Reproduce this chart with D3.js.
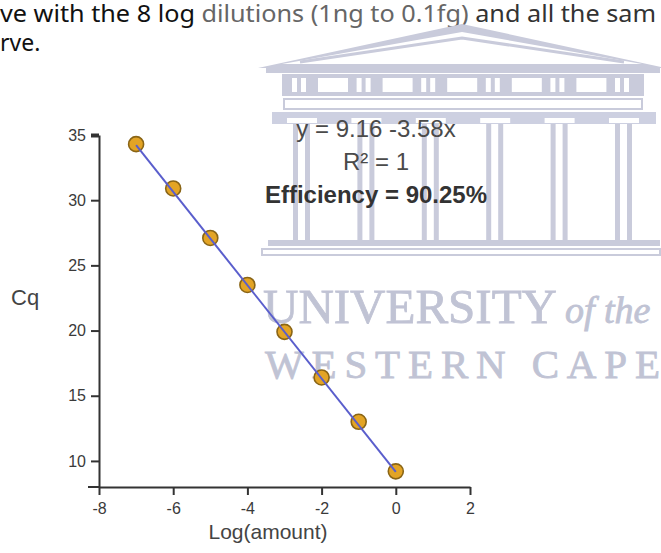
<!DOCTYPE html>
<html lang="en">
<head>
  <meta charset="UTF-8">
  <title>Standard curve</title>
  <style>
    body { margin: 0; background: #fff; }
    svg { display: block; }
  </style>
</head>
<body>
<svg width="661" height="553"></svg>

<script src="https://cdn.jsdelivr.net/npm/d3@7/dist/d3.min.js"></script>
<script>
// data
var logAmount = [-7, -6, -5, -4, -3, -2, -1, 0];
var cq = [34.3, 30.9, 27.1, 23.5, 19.9, 16.4, 13.0, 9.2];
var fitCoef = [9.16, -3.58];               // intercept, slope
var xTicks = [-8, -6, -4, -2, 0, 2];
var yTicks = [10, 15, 20, 25, 30, 35];
var fitLabels = ["y = 9.16 -3.58x", "R\u00b2 = 1", "Efficiency = 90.25%"];
var pageLines = ["ve with the 8 log", " dilutions (1ng to 0.1fg)", " and all the sam"];

var svg = d3.select("svg");
var wm = "#c9cbdb";

// page text above the figure (cut off in the scan)
var t1 = svg.append("text")
  .attr("x", 0).attr("y", 22)
  .attr("font-family", "'Noto Sans', 'Open Sans', sans-serif")
  .attr("font-size", 23)
  .attr("textLength", 656).attr("lengthAdjust", "spacingAndGlyphs");
t1.selectAll("tspan").data(pageLines).enter().append("tspan")
  .attr("fill", function(d, i) { return ["#111", "#666", "#333"][i]; })
  .text(function(d) { return d; });
svg.append("text")
  .attr("x", 0).attr("y", 51)
  .attr("font-family", "'Noto Sans', 'Open Sans', sans-serif")
  .attr("font-size", 23).attr("fill", "#111")
  .text("rve.");

// watermark (university crest) behind the chart
var w = svg.append("g").attr("class", "watermark");
w.append("path").attr("d", "M258,68 L462,24 L666,68 Z").attr("fill", wm);
w.append("path").attr("d", "M282,64 L462,32 L642,64 Z").attr("fill", "#fff");
w.append("path").attr("d", "M300,62 L462,38 L624,62").attr("fill", "none").attr("stroke", wm).attr("stroke-width", 3);
w.append("rect").attr("x", 266).attr("y", 68).attr("width", 394).attr("height", 5).attr("fill", wm);
w.append("rect").attr("x", 282).attr("y", 74).attr("width", 362).attr("height", 22).attr("fill", wm);
var bays = d3.range(6);
w.selectAll(".pair").data(bays).enter().append("g").each(function(d) {
  var x0 = 292 + d * 64.6;
  d3.select(this).append("rect").attr("x", x0).attr("y", 78).attr("width", 5).attr("height", 14).attr("fill", "#fff");
  d3.select(this).append("rect").attr("x", x0 + 9).attr("y", 78).attr("width", 5).attr("height", 14).attr("fill", "#fff");
  if (d < 5) {
    d3.select(this).append("rect").attr("x", x0 + 26).attr("y", 78).attr("width", 30).attr("height", 14).attr("fill", "#fff");
  }
});
w.append("rect").attr("x", 284).attr("y", 99).attr("width", 358).attr("height", 10)
  .attr("fill", "#fff").attr("stroke", wm).attr("stroke-width", 2);
w.append("rect").attr("x", 272).attr("y", 112).attr("width", 384).attr("height", 12).attr("fill", "#cdd0e1");
w.selectAll(".col").data(bays).enter().append("g").each(function(d) {
  var x0 = 293 + d * 64.4;
  var g = d3.select(this);
  g.append("rect").attr("x", x0 - 6).attr("y", 118).attr("width", 30).attr("height", 5).attr("fill", "#fff");
  g.append("rect").attr("x", x0).attr("y", 124).attr("width", 5).attr("height", 116).attr("fill", wm);
  g.append("rect").attr("x", x0 + 12).attr("y", 124).attr("width", 5).attr("height", 116).attr("fill", wm);
});
w.append("rect").attr("x", 268).attr("y", 240).attr("width", 392).attr("height", 6).attr("fill", wm);
w.append("rect").attr("x", 262).attr("y", 249).attr("width", 398).attr("height", 6)
  .attr("fill", "#fff").attr("stroke", wm).attr("stroke-width", 2);

var uni = w.append("text")
  .attr("x", 263).attr("y", 323)
  .attr("font-family", "'Liberation Serif', 'DejaVu Serif', serif")
  .attr("fill", "#c0c3d4").attr("stroke", "#c0c3d4").attr("stroke-width", 0.8);
uni.append("tspan").attr("font-size", 49).text("UNIVERSITY");
uni.append("tspan").attr("font-size", 38).attr("font-style", "italic").attr("dx", 8).text("of the");
w.append("text")
  .attr("x", 265).attr("y", 378)
  .attr("font-family", "'Liberation Serif', 'DejaVu Serif', serif")
  .attr("font-size", 41).attr("fill", "#c0c3d4").attr("stroke", "#c0c3d4").attr("stroke-width", 0.8)
  .attr("textLength", 395).attr("lengthAdjust", "spacing")
  .text("WESTERN CAPE");

// scales
var x = d3.scaleLinear().domain([-8, 2]).range([99, 470]);
var y = d3.scaleLinear().domain([8, 35]).range([487, 135]);

var font = "Arial, 'Liberation Sans', sans-serif";

// axes
var yAxis = d3.axisLeft(y).tickValues(yTicks).tickSize(8).tickSizeOuter(0).tickPadding(5);
var gy = svg.append("g").attr("transform", "translate(99,0)").call(yAxis);
var xAxis = d3.axisBottom(x).tickValues(xTicks).tickSize(8).tickSizeOuter(0).tickPadding(8)
  .tickFormat(function(d) { return String(d); });
var gx = svg.append("g").attr("transform", "translate(0,487)").call(xAxis);
gx.append("line").attr("x1", 88).attr("x2", x(-8)).attr("y1", 0).attr("y2", 0);

[gx, gy].forEach(function(g) {
  g.attr("font-size", 16);
  g.selectAll(".domain").attr("stroke", "#333").attr("stroke-width", 2);
  g.selectAll("line").attr("stroke", "#333").attr("stroke-width", 2);
  g.selectAll("text").attr("font-family", font).attr("font-size", 16).attr("fill", "#3a3a3a");
});
gy.select(".tick:last-of-type line").attr("stroke-width", 4);

// axis titles
svg.append("text").attr("x", 11).attr("y", 305)
  .attr("font-family", font).attr("font-size", 22).attr("fill", "#444").text("Cq");
svg.append("text").attr("x", 268).attr("y", 539).attr("text-anchor", "middle")
  .attr("font-family", font).attr("font-size", 21).attr("fill", "#444").text("Log(amount)");

// points
var pts = logAmount.map(function(d, i) { return { x: d, y: cq[i] }; });
svg.append("g").selectAll("circle")
  .data(pts).enter().append("circle")
  .attr("cx", function(d) { return x(d.x); })
  .attr("cy", function(d) { return y(d.y); })
  .attr("r", 7.5)
  .attr("fill", "#e3a425")
  .attr("stroke", "#8a6516")
  .attr("stroke-width", 1.6);

// regression line over the points
var xr = d3.extent(logAmount);
svg.append("path")
  .datum(xr)
  .attr("d", d3.line()
    .x(function(d) { return x(d); })
    .y(function(d) { return y(fitCoef[0] + fitCoef[1] * d); }))
  .attr("fill", "none")
  .attr("stroke", "#5a5ecc")
  .attr("stroke-width", 2);

// fit annotation
svg.append("g").selectAll("text")
  .data(fitLabels).enter().append("text")
  .attr("x", 376)
  .attr("y", function(d, i) { return 137 + i * 33; })
  .attr("text-anchor", "middle")
  .attr("font-family", font)
  .attr("font-size", 24)
  .attr("font-weight", function(d, i) { return i == 2 ? "bold" : "normal"; })
  .attr("fill", function(d, i) { return i == 2 ? "#333" : "#4a4a4a"; })
  .text(function(d) { return d; });
</script>
</body>
</html>
